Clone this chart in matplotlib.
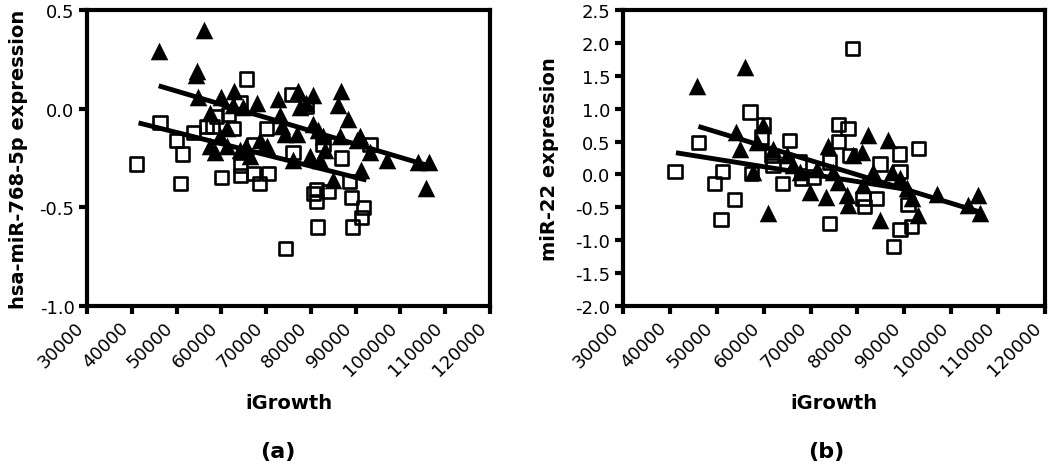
import matplotlib
matplotlib.use("Agg")
import matplotlib.pyplot as plt
import numpy as np

plt.rcParams['font.family'] = ['DejaVu Sans']
plt.rcParams['axes.unicode_minus'] = False

# ---------------- Panel (a): hsa-miR-768-5p ----------------
a_tri_x = [56100, 46000, 54600, 54300, 62900, 54800, 60000, 67900, 72700, 77200,
           80500, 86700, 86100, 88300, 57500, 73100, 74200, 80500, 81600, 76800,
           86500, 90900, 93200, 96900, 104000, 106400, 105800, 91200, 85000, 58600,
           61200, 64200, 65600, 70100, 68600, 61200, 59700, 62700, 64900, 77500,
           79000, 82700, 83100, 66400, 76000, 79800, 82000, 73500, 57500, 90200]
a_tri_y = [0.40, 0.29, 0.19, 0.17, 0.09, 0.06, 0.06, 0.03, 0.05, 0.09,
           0.07, 0.09, 0.02, -0.05, -0.02, -0.03, -0.13, -0.08, -0.11, -0.13,
           -0.14, -0.14, -0.22, -0.26, -0.27, -0.27, -0.40, -0.31, -0.36, -0.22,
           -0.19, -0.21, -0.19, -0.19, -0.16, -0.10, -0.14, 0.02, 0.01, 0.01,
           0.03, -0.14, -0.21, -0.24, -0.26, -0.24, -0.26, -0.09, -0.19, -0.16]
a_sq_x = [65600, 75700, 46300, 41100, 50000, 51300, 50800, 53700, 60100, 64200,
          64200, 68600, 70500, 58900, 62700, 70100, 64200, 61500, 56700, 67100,
          76000, 79000, 82700, 86800, 93200, 81300, 80500, 83900, 81300, 88700,
          89100, 91700, 91300, 81400, 89300, 74400, 67100, 58100]
a_sq_y = [0.15, 0.07, -0.07, -0.28, -0.16, -0.23, -0.38, -0.12, -0.35, -0.34,
          -0.29, -0.38, -0.33, -0.04, -0.10, -0.10, 0.03, -0.03, -0.09, -0.18,
          -0.22, 0.01, -0.18, -0.25, -0.18, -0.41, -0.43, -0.42, -0.47, -0.37,
          -0.45, -0.50, -0.55, -0.60, -0.60, -0.71, -0.33, -0.09]
a_tri_fit_x = [46000, 105800]
a_tri_fit_y = [0.116, -0.286]
a_sq_fit_x = [41500, 92400]
a_sq_fit_y = [-0.072, -0.362]

# ---------------- Panel (b): miR-22 ----------------
b_tri_x = [45700, 56000, 54200, 59900, 54900, 57800, 61000, 69900, 73200, 73800,
           82200, 86600, 84800, 78000, 75900, 80900, 79100, 96900, 103600, 105800,
           106100, 93000, 90500, 91600, 87300, 89100, 67700, 64900, 62000, 77700,
           81200, 83400, 71300, 74800, 66300, 58500]
b_tri_y = [1.34, 1.64, 0.65, 0.75, 0.39, 0.04, -0.59, -0.26, -0.35, 0.43,
           0.60, 0.52, -0.69, -0.46, -0.11, 0.34, 0.29, -0.30, -0.46, -0.31,
           -0.59, -0.62, -0.21, -0.36, 0.04, -0.06, 0.04, 0.29, 0.39, -0.31,
           -0.16, 0.04, 0.09, 0.04, 0.14, 0.49]
b_sq_x = [79000, 57100, 59900, 46100, 41100, 49600, 51300, 53700, 50900, 75900,
          78000, 75900, 65600, 59600, 93000, 88900, 84800, 89100, 57400, 64000,
          68100, 70600, 74100, 81600, 81200, 84100, 90800, 91600, 89100, 87700,
          74100, 78400, 61700, 62000, 67700]
b_sq_y = [1.92, 0.95, 0.76, 0.48, 0.04, -0.14, 0.05, -0.38, -0.68, 0.76,
          0.70, 0.50, 0.52, 0.57, 0.40, 0.31, 0.16, 0.04, 0.02, -0.14,
          -0.06, -0.04, -0.75, -0.49, -0.36, -0.36, -0.46, -0.79, -0.84, -1.10,
          0.19, 0.29, 0.29, 0.14, 0.19]
b_tri_fit_x = [46100, 106100]
b_tri_fit_y = [0.73, -0.57]
b_sq_fit_x = [41300, 91600]
b_sq_fit_y = [0.33, -0.24]

x_ticks = [30000, 40000, 50000, 60000, 70000, 80000, 90000, 100000, 110000, 120000]
a_y_ticks = [-1.0, -0.5, 0.0, 0.5]
b_y_ticks = [-2.0, -1.5, -1.0, -0.5, 0.0, 0.5, 1.0, 1.5, 2.0, 2.5]

fig = plt.figure(figsize=(10.5, 4.77), dpi=100)
ax1 = fig.add_axes([0.0829, 0.3564, 0.3838, 0.6205])
ax2 = fig.add_axes([0.5933, 0.3564, 0.4019, 0.6205])


def style(ax, yticks, ylabel, lpad):
    ax.set_xlim(x_ticks[0], x_ticks[-1])
    ax.set_ylim(yticks[0], yticks[-1])
    ax.set_xticks(x_ticks)
    ax.set_xticklabels([str(t) for t in x_ticks], rotation=45, ha='right',
                       va='top', fontsize=13)
    ax.set_yticks(yticks)
    ax.set_yticklabels(['%.1f' % t for t in yticks], fontsize=13)
    for sp in ax.spines.values():
        sp.set_linewidth(3)
    ax.tick_params(direction='out', length=6, width=3, pad=3)
    ax.set_xlabel('iGrowth', fontsize=14, fontweight='bold', labelpad=10)
    ax.set_ylabel(ylabel, fontsize=14, fontweight='bold', labelpad=lpad)


for ax, tx, ty, sx, sy, tfx, tfy, sfx, sfy in [
        (ax1, a_tri_x, a_tri_y, a_sq_x, a_sq_y, a_tri_fit_x, a_tri_fit_y, a_sq_fit_x, a_sq_fit_y),
        (ax2, b_tri_x, b_tri_y, b_sq_x, b_sq_y, b_tri_fit_x, b_tri_fit_y, b_sq_fit_x, b_sq_fit_y)]:
    ax.scatter(sx, sy, marker='s', s=90, facecolors='none', edgecolors='black',
               linewidths=1.9, zorder=3)
    ax.scatter(tx, ty, marker='^', s=160, color='black', linewidths=0, zorder=3)
    ax.plot(tfx, tfy, color='black', lw=3.5, zorder=4, solid_capstyle='butt')
    ax.plot(sfx, sfy, color='black', lw=3.5, zorder=4, solid_capstyle='butt')

style(ax1, a_y_ticks, 'hsa-miR-768-5p expression', 8)
style(ax2, b_y_ticks, 'miR-22 expression', 12)

fig.text(0.265, 0.031, '(a)', ha='center', va='bottom', fontsize=16, fontweight='bold')
fig.text(0.787, 0.031, '(b)', ha='center', va='bottom', fontsize=16, fontweight='bold')

fig.savefig('out.png', dpi=100)
